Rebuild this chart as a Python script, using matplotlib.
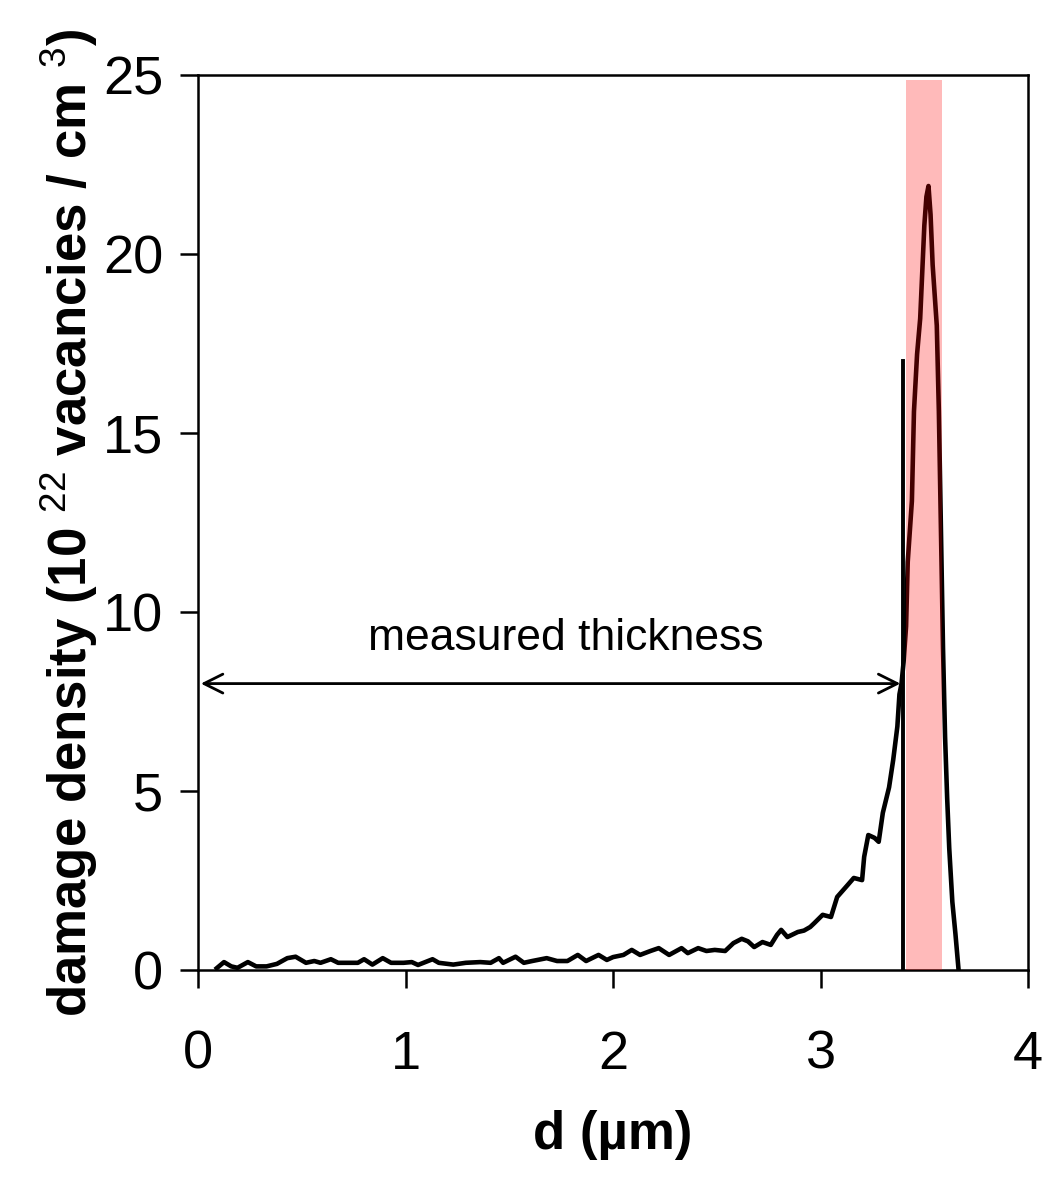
import numpy as np
import matplotlib
matplotlib.use("Agg")
from matplotlib import pyplot as plt

plt.rcParams['font.family'] = ['Liberation Sans', 'DejaVu Sans']
plt.rcParams['mathtext.fontset'] = 'custom'
plt.rcParams['mathtext.rm'] = 'Liberation Sans'
plt.rcParams['mathtext.bf'] = 'Liberation Sans:bold'

# damage profile: depth (um) and density (1e22 vac/cm3)
depth = [0.09, 0.125, 0.16, 0.19, 0.24, 0.28, 0.33, 0.38, 0.43, 0.47,
         0.52, 0.56, 0.59, 0.64, 0.675, 0.77, 0.80, 0.84, 0.89, 0.93,
         0.99, 1.03, 1.06, 1.13, 1.16, 1.23, 1.29, 1.36, 1.41, 1.45,
         1.47, 1.53, 1.57, 1.61, 1.68, 1.73, 1.78, 1.83, 1.87, 1.93,
         1.97, 2.00, 2.05, 2.09, 2.13, 2.18, 2.22, 2.27, 2.33, 2.36,
         2.41, 2.45, 2.49, 2.54, 2.58, 2.62, 2.65, 2.68, 2.72, 2.76,
         2.79, 2.81, 2.84, 2.89, 2.92, 2.95, 2.97, 3.01, 3.05, 3.08,
         3.13, 3.16, 3.20, 3.21, 3.23, 3.26, 3.28, 3.30, 3.33, 3.35,
         3.37, 3.38, 3.39, 3.40, 3.412, 3.42, 3.44, 3.45, 3.465, 3.48,
         3.49, 3.50, 3.51, 3.52, 3.53, 3.54, 3.56, 3.57, 3.58, 3.59,
         3.60, 3.61, 3.62, 3.635, 3.65, 3.665]
density = [0.05, 0.22, 0.10, 0.06, 0.22, 0.10, 0.10, 0.17, 0.33, 0.37,
           0.20, 0.25, 0.20, 0.30, 0.20, 0.20, 0.30, 0.15, 0.33, 0.20,
           0.20, 0.22, 0.14, 0.30, 0.20, 0.15, 0.20, 0.22, 0.20, 0.33,
           0.20, 0.37, 0.20, 0.25, 0.33, 0.25, 0.25, 0.42, 0.25, 0.42,
           0.28, 0.36, 0.42, 0.56, 0.42, 0.53, 0.61, 0.42, 0.61, 0.47,
           0.61, 0.53, 0.56, 0.53, 0.75, 0.87, 0.80, 0.64, 0.78, 0.70,
           0.98, 1.12, 0.92, 1.06, 1.10, 1.20, 1.31, 1.54, 1.48, 2.04,
           2.37, 2.57, 2.51, 3.16, 3.77, 3.69, 3.58, 4.39, 5.10, 5.87,
           6.80, 7.70, 8.00, 8.6, 9.6, 11.4, 13.1, 15.6, 17.2, 18.2,
           19.5, 20.8, 21.6, 21.9, 21.1, 19.7, 18.0, 15.6, 12.3, 9.0,
           6.5, 4.8, 3.4, 1.9, 1.0, 0.0]

thickness = 3.398      # measured thickness (um)
marker_top = 17.0      # height of the vertical marker
arrow_y = 8.0
band = (3.412, 3.586)  # shaded peak region

fig = plt.figure(figsize=(10.48, 11.78), dpi=100)
ax = fig.add_axes([0.189, 0.1766, 0.792, 0.7597])

ax.plot(depth, density, color="black", lw=3.3, zorder=2)
ax.plot([thickness, thickness], [0, marker_top], color="black", lw=2.8, zorder=2)
ax.axvspan(band[0], band[1], ymax=24.85/25, color="red", alpha=0.27, lw=0, zorder=3)

ax.annotate("", xy=(0, arrow_y), xytext=(thickness, arrow_y),
            arrowprops=dict(arrowstyle="<->", color="black", lw=2,
                            mutation_scale=34))
ax.text(1.77, 9.25, "measured thickness", fontsize=32, ha="center", va="center")

ax.set_xlim(0, 4)
ax.set_ylim(0, 25)
ax.set_xticks([0, 1, 2, 3, 4])
ax.set_yticks([0, 5, 10, 15, 20, 25])
ax.tick_params(direction="out", length=13, width=1.8, labelsize=39)
ax.tick_params(axis="x", pad=30)
ax.tick_params(axis="y", pad=12)
for s in ax.spines.values():
    s.set_linewidth(1.8)

ax.set_xlabel("d (\u00b5m)", fontsize=38, fontweight="bold", labelpad=22)
ax.set_ylabel(r"damage density (10 $^{\mathrm{22}}$ vacancies / cm $^{\mathrm{3}}$)",
              fontsize=38, fontweight="bold", labelpad=2)

fig.savefig("out.png", dpi=100)
